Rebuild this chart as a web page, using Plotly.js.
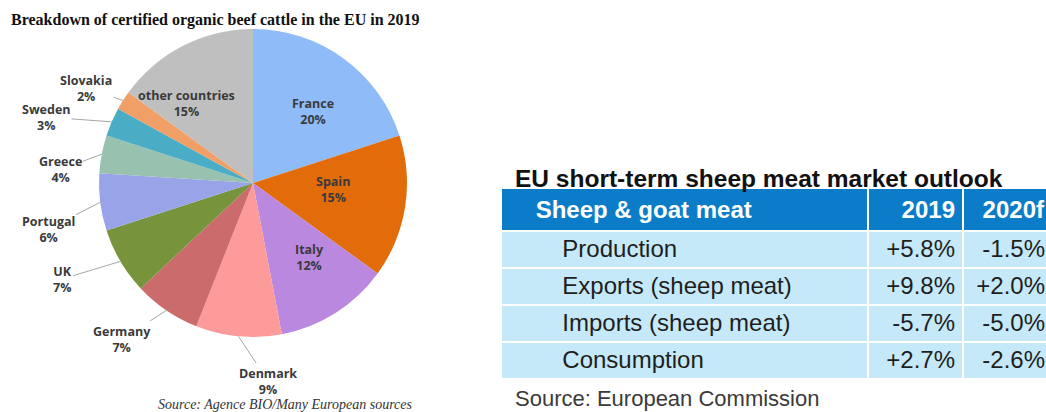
<!DOCTYPE html>
<html>
<head>
<meta charset="utf-8">
<script src="https://cdn.plot.ly/plotly-3.0.1.min.js"></script>
<style>
  html, body { margin: 0; padding: 0; background: #ffffff; overflow: hidden; }
  #wrap { width: 1046px; height: 412px; overflow: hidden; }
</style>
</head>
<body>
<div id="wrap"><div id="chart"></div></div>
<script>
// ---------- DATA ----------
const countries = ['France', 'Spain', 'Italy', 'Denmark', 'Germany', 'UK', 'Portugal', 'Greece', 'Sweden', 'Slovakia', 'other countries'];
const shares = [20, 15, 12, 9, 7, 7, 6, 4, 3, 2, 15];

const tableHeader = ['Sheep & goat meat', '2019', '2020f'];
const indicators = ['Production', 'Exports (sheep meat)', 'Imports (sheep meat)', 'Consumption'];
const change2019 = ['+5.8%', '+9.8%', '-5.7%', '+2.7%'];
const change2020 = ['-1.5%', '+2.0%', '-5.0%', '-2.6%'];

// ---------- STYLE / LAYOUT ----------
// the plot is slightly wider than the window so the last table column is cut at the edge
const W = 1053, H = 412;
const sliceColors = ['#8fbcf9', '#e36c0a', '#bb88e0', '#fd9a9a', '#cb6b6b', '#77933c',
                     '#98a3e8', '#98c1b0', '#4bacc6', '#f0a066', '#bfbfbf'];
// pie geometry in pixels
const pieCx = 253, pieCy = 183, pieR = 154;
// label centres in pixels; inside labels have no leader line
const labelPos = {
  'France':          [313, 111, false],
  'Spain':           [333, 189, false],
  'Italy':           [309, 257, false],
  'other countries': [186, 103, false],
  'Slovakia':        [86, 88, true],
  'Sweden':          [46, 117, true],
  'Greece':          [60, 170, true],
  'Portugal':        [48, 229, true],
  'UK':              [62, 279, true],
  'Germany':         [122, 339, true],
  'Denmark':         [268, 381, true]
};
const labelFont = { family: '"Open Sans", "Noto Sans", sans-serif', size: 12.5, color: '#3a3a3a' };

const pieTrace = {
  type: 'pie',
  labels: countries,
  values: shares,
  sort: false,
  direction: 'clockwise',
  rotation: 0,
  marker: { colors: sliceColors, line: { width: 0 } },
  textinfo: 'none',
  showlegend: false,
  hoverinfo: 'label+percent',
  domain: {
    x: [(pieCx - pieR) / W, (pieCx + pieR) / W],
    y: [1 - (pieCy + pieR) / H, 1 - (pieCy - pieR) / H]
  }
};

const pad = (s, n) => '\u00a0'.repeat(n) + s;
const tableFont = 'Liberation Sans, Arial, sans-serif';
const tableTrace = {
  type: 'table',
  domain: { x: [501 / W, 1], y: [0, 1 - 188 / H] },
  columnwidth: [367, 95, 90],
  header: {
    values: tableHeader.map((h, i) => '<b>' + (i === 0 ? pad(h, 4) : h) + '</b>'),
    align: ['left', 'right', 'right'],
    fill: { color: '#0b7dc8' },
    line: { color: '#ffffff', width: 2 },
    font: { family: tableFont, size: 24, color: '#ffffff' },
    height: 36
  },
  cells: {
    values: [indicators.map(s => pad(s, 8)), change2019, change2020],
    align: ['left', 'right', 'right'],
    fill: { color: '#c6e9fa' },
    line: { color: '#ffffff', width: 2 },
    font: { family: tableFont, size: 24, color: '#1e1e1e' },
    height: 37
  }
};

// annotations: titles, sources, pie labels with leader lines
const annotations = [
  {
    text: '<b>Breakdown of certified organic beef cattle in the EU in 2019</b>',
    xref: 'paper', yref: 'paper', x: 9 / W, y: 1 - 20 / H, xanchor: 'left', yanchor: 'middle',
    showarrow: false, font: { family: '"Liberation Serif", "DejaVu Serif", serif', size: 16, color: '#111111' }
  },
  {
    text: '<i>Source: Agence BIO/Many European sources</i>',
    xref: 'paper', yref: 'paper', x: 285 / W, y: 1 - 404 / H, xanchor: 'center', yanchor: 'middle',
    showarrow: false, font: { family: '"Liberation Serif", serif', size: 14, color: '#333333' }
  },
  {
    text: '<b>EU short-term sheep meat market outlook</b>',
    xref: 'paper', yref: 'paper', x: 513 / W, y: 1 - 178 / H, xanchor: 'left', yanchor: 'middle',
    showarrow: false, font: { family: tableFont, size: 24.5, color: '#111111' }
  },
  {
    text: 'Source: European Commission',
    xref: 'paper', yref: 'paper', x: 513 / W, y: 1 - 398 / H, xanchor: 'left', yanchor: 'middle',
    showarrow: false, font: { family: tableFont, size: 22, color: '#3a3a3a' }
  }
];

// leader-line tips computed from the data (slice mid-angles)
const total = shares.reduce((a, b) => a + b, 0);
let cum = 0;
countries.forEach((c, i) => {
  const mid = (cum + shares[i] / 2) / total * 2 * Math.PI;
  cum += shares[i];
  const [lx, ly, leader] = labelPos[c];
  const text = '<b>' + c + '</b><br><b>' + shares[i] + '%</b>';
  if (leader) {
    const tx = pieCx + pieR * Math.sin(mid);
    const ty = pieCy - pieR * Math.cos(mid);
    annotations.push({
      text: text,
      xref: 'paper', yref: 'paper', x: tx / W, y: 1 - ty / H,
      axref: 'pixel', ayref: 'pixel', ax: lx - tx, ay: ly - ty,
      showarrow: true, arrowhead: 0, arrowwidth: 1, arrowcolor: '#a6a6a6',
      font: labelFont, align: 'center'
    });
  } else {
    annotations.push({
      text: text,
      xref: 'paper', yref: 'paper', x: lx / W, y: 1 - ly / H,
      xanchor: 'center', yanchor: 'middle', showarrow: false,
      font: labelFont, align: 'center'
    });
  }
});

const layout = {
  width: W, height: H,
  margin: { l: 0, r: 0, t: 0, b: 0 },
  paper_bgcolor: '#ffffff',
  plot_bgcolor: '#ffffff',
  annotations: annotations
};

Plotly.newPlot('chart', [pieTrace, tableTrace], layout, { displayModeBar: false, staticPlot: true });
</script>
</body>
</html>
